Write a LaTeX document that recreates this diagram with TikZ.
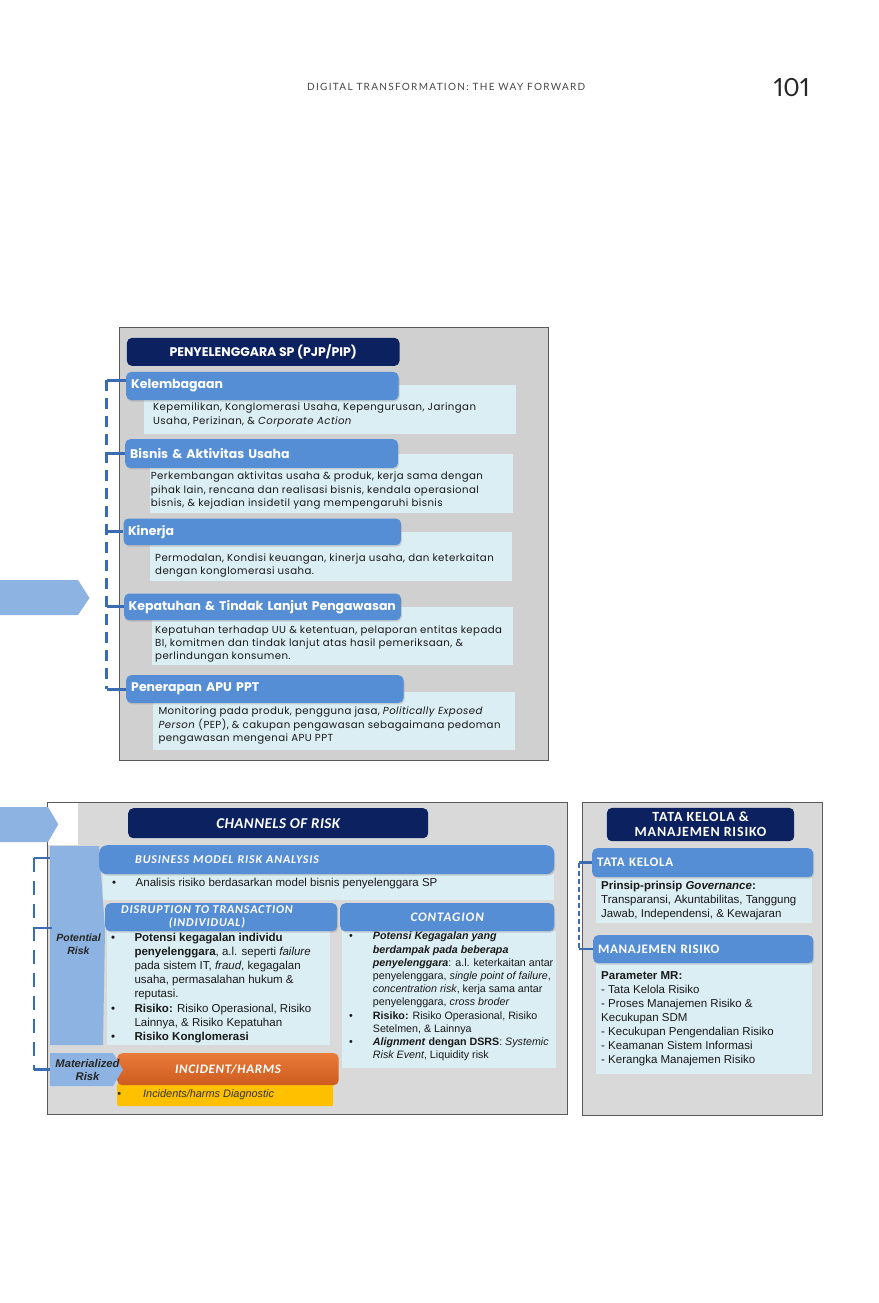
\documentclass[tikz,border=0pt]{standalone}
\usepackage{fontspec}
\setmainfont{Liberation Sans}
\newfontfamily\gothic{Poppins}
\newfontfamily\calib{Carlito}
\newfontfamily\runfont{Lato}
\usetikzlibrary{shadows}

\definecolor{navy}{RGB}{12,34,96}
\definecolor{hblue}{RGB}{85,142,213}
\definecolor{pale}{RGB}{219,238,244}
\definecolor{panelA}{RGB}{208,208,208}
\definecolor{panelB}{RGB}{217,217,217}
\definecolor{arrowblue}{RGB}{141,179,226}
\definecolor{linkblue}{RGB}{58,108,180}
\definecolor{incidentTop}{RGB}{232,122,58}
\definecolor{incidentBot}{RGB}{205,92,30}
\definecolor{amber}{RGB}{255,192,0}
\definecolor{runhead}{RGB}{70,70,70}

% bullet hanging to the left of the text start
\newcommand\rbul[1]{\leavevmode\llap{\textbullet\hspace{#1}}}
% spaced Carlito headings: [baselineskip]{size}{letter spacing}
\newcommand\calsp[3][15]{\calib\addfontfeatures{LetterSpace=#3}\bfseries\fontsize{#2}{#1}\selectfont}

\tikzset{
  sz/.style 2 args={minimum width=#1, minimum height=#2},
  panel/.style={draw=black!65, line width=0.9pt, inner sep=0, anchor=north west},
  navybox/.style={fill=navy, rounded corners=5pt, text=white, inner sep=0, anchor=north west, align=center},
  bluehdr/.style={fill=hblue, rounded corners=5pt, text=white, anchor=north west,
    inner ysep=0, inner xsep=5pt, align=left,
    drop shadow={shadow xshift=1pt, shadow yshift=-1.5pt, opacity=0.3}},
  desc/.style={fill=pale, inner sep=0, anchor=north west},
  body/.style={inner sep=0, anchor=north west, align=left, text=black!90},
  gothicbody/.style={body, font={\gothic\addfontfeatures{LetterSpace=4}\fontsize{10.2}{13.3}\selectfont}},
  gothichdr/.style={font={\gothic\bfseries\fontsize{12.5}{14}\selectfont}},
  link/.style={draw=linkblue, line width=3pt, dash pattern=on 11pt off 7pt},
  tick/.style={draw=linkblue, line width=3pt},
}

\begin{document}
\begin{tikzpicture}[x=1pt,y=-1pt]
\useasboundingbox (0,0) rectangle (878,1303);
\fill[white] (0,0) rectangle (878,1303);

% running head
\node[anchor=base west, inner sep=0, text=runhead,
      font={\runfont\addfontfeatures{LetterSpace=13}\fontsize{10}{12}\selectfont}]
  (runhead) at (307,90.6) {DIGITAL TRANSFORMATION: THE WAY FORWARD};
\node[anchor=base east, inner sep=0, text=black!85,
      font={\runfont\addfontfeatures{Numbers=Proportional}\fontsize{25}{28}\selectfont}]
  (pagenum) at (810,97) {101};

% ---------------- supervised entity profile ----------------
\fill[arrowblue] (0,580) -- (78,580) -- (89.5,598) -- (78,615) -- (0,615) -- cycle;

\node[panel, fill=panelA, sz={429}{433.3}] (topPanel) at (119.3,326.7) {};
\node[navybox, sz={272.6}{28}, font={\gothic\bfseries\fontsize{12.5}{14}\selectfont}]
  (pjp) at (126.7,337.7) {PENYELENGGARA SP (PJP/PIP)};

\node[desc, sz={372.7}{48.3}] (kelBox) at (143.3,385) {};
\node[desc, sz={363}{59}]     (bisBox) at (149.3,453.3) {};
\node[desc, sz={361.7}{49}]   (kinBox) at (150,531.7) {};
\node[desc, sz={361}{58.3}]   (kepBox) at (151.7,606.7) {};
\node[desc, sz={362.3}{57.6}] (penBox) at (152.7,691.7) {};

\node[bluehdr, gothichdr, minimum height=28.3, text width=262.3] (kel) at (126,371.7) {\mbox{Kelembagaan}};
\node[bluehdr, gothichdr, minimum height=28.7, text width=262.7] (bis) at (125,439) {\mbox{Bisnis \& Aktivitas Usaha}};
\node[bluehdr, gothichdr, minimum height=26.7, text width=268.4, inner xsep=4.5pt] (kin) at (123.3,518.3) {\mbox{Kinerja}};
\node[bluehdr, gothichdr, minimum height=26.7, text width=267.7, inner xsep=4.5pt] (kep) at (124,593.3) {\mbox{Kepatuhan \& Tindak Lanjut Pengawasan}};
\node[bluehdr, gothichdr, minimum height=27.7, text width=267.3] (pen) at (126,675) {\mbox{Penerapan APU PPT}};

\node[gothicbody] (kelTxt) at (153,402.9)
  {Kepemilikan, Konglomerasi Usaha, Kepengurusan, Jaringan\\
   Usaha, Perizinan, \& \textit{Corporate Action}};
\node[gothicbody] (bisTxt) at (150.7,471.9)
  {Perkembangan aktivitas usaha \& produk, kerja sama dengan\\
   pihak lain, rencana dan realisasi bisnis, kendala operasional\\
   bisnis, \& kejadian insidetil yang mempengaruhi bisnis};
\node[gothicbody] (kinTxt) at (155,553.5)
  {Permodalan, Kondisi keuangan, kinerja usaha, dan keterkaitan\\
   dengan konglomerasi usaha.};
\node[gothicbody] (kepTxt) at (155,625.2)
  {Kepatuhan terhadap UU \& ketentuan, pelaporan entitas kepada\\
   BI, komitmen dan tindak lanjut atas hasil pemeriksaan, \&\\
   perlindungan konsumen.};
\node[gothicbody] (penTxt) at (158.3,706.9)
  {Monitoring pada produk, pengguna jasa, \textit{Politically Exposed}\\
   \textit{Person} (PEP), \& cakupan pengawasan sebagaimana pedoman\\
   pengawasan mengenai APU PPT};

% bracket joining the profile aspects
\coordinate (tTop) at (106.7,380);
\coordinate (tBot) at (106.7,689);
\draw[link] (tTop) -- (tBot);
\draw[tick] (tTop) -- (kel.west |- tTop);
\draw[tick] (bis.west) -- (bis.west -| tTop);
\draw[tick] (kin.west) -- (kin.west -| tTop);
\draw[tick] (kep.west) -- (kep.west -| tTop);
\draw[tick] (tBot) -- (pen.west |- tBot);

% ---------------- channels of risk ----------------
\node[panel, fill=panelB, sz={520}{312}] (chPanel) at (47,802) {};
\fill[white] (47.5,802.5) rectangle (78,845);
\fill[arrowblue] (0,807) -- (48,807) -- (58.3,824.3) -- (48,842) -- (0,842) -- cycle;

\node[navybox, sz={300}{30}, font={\calsp{15}{3}\itshape}]
  (chTitle) at (128,808) {CHANNELS OF RISK};

\fill[arrowblue] (50,846) -- (99,846) -- (105,930) -- (103,1045) -- (50,1045) -- cycle;
\node[font={\bfseries\itshape\fontsize{10.5}{13}\selectfont}, align=center, text=black!85, inner sep=0]
  (potTxt) at (78.5,944.5) {Potential\\Risk};

\node[desc, sz={451}{26}] (bmraBox) at (103,874) {};
\node[bluehdr, font={\calsp{12}{7}\itshape}, rounded corners=8pt, minimum height=29, inner xsep=36pt, text width=383]
  (bmra) at (99,845) {BUSINESS MODEL RISK ANALYSIS};
\node[body, anchor=west, font={\fontsize{11.5}{13}\selectfont}] (bmraTxt) at (135.5,884)
  {\rbul{19.5pt}Analisis risiko berdasarkan model bisnis penyelenggara SP};

\node[desc, sz={223}{114}] (disBox) at (107,931) {};
\node[bluehdr, sz={232}{28}] (dis) at (105,903) {};
\node[font={\calsp[13]{12}{7}\itshape}, align=center, text=white, inner sep=0] (disTxt) at (207,916.5)
  {DISRUPTION TO TRANSACTION\\(INDIVIDUAL)};
\node[body, font={\fontsize{11.5}{14.2}\selectfont}] (disList) at (134.3,932.6)
  {\rbul{19.3pt}\textbf{Potensi kegagalan individu}\\
   \textbf{penyelenggara}, a.l. seperti \textit{failure}\\
   pada sistem IT, \textit{fraud}, kegagalan\\
   usaha, permasalahan hukum \&\\
   reputasi.\\
   \rbul{19.3pt}\textbf{Risiko:} Risiko Operasional, Risiko\\
   Lainnya, \& Risiko Kepatuhan\\
   \rbul{19.3pt}\textbf{Risiko Konglomerasi}};

\node[desc, sz={214}{137}] (conBox) at (342,931) {};
\node[bluehdr, sz={214}{28}, align=center, inner xsep=0,
      font={\calsp{13}{7}\itshape}] (con) at (340,903) {CONTAGION};
\node[body, font={\fontsize{10.7}{13.2}\selectfont}] (conList) at (372.7,932)
  {\rbul{20.1pt}\textbf{\textit{Potensi Kegagalan yang}}\\
   \textbf{\textit{berdampak pada beberapa}}\\
   \textbf{\textit{penyelenggara}}: a.l. keterkaitan antar\\
   penyelenggara, \textit{single point of failure},\\
   \textit{concentration risk}, kerja sama antar\\
   penyelenggara, \textit{cross broder}\\
   \rbul{20.1pt}\textbf{Risiko:} Risiko Operasional, Risiko\\
   Setelmen, \& Lainnya\\
   \rbul{20.1pt}\textbf{\textit{Alignment} dengan DSRS}: \textit{Systemic}\\
   \textit{Risk Event}, Liquidity risk};

\node[anchor=north west, sz={216}{23}, inner sep=0, fill=amber, rounded corners=2pt] (diag) at (117,1083) {};
\node[anchor=west, inner sep=0, text=black!80, font={\itshape\fontsize{10.9}{12}\selectfont}]
  (diagTxt) at (143,1095) {\rbul{22pt}Incidents/harms Diagnostic};
\node[anchor=north west, sz={221.5}{32}, inner sep=0, rounded corners=5pt,
      top color=incidentTop, bottom color=incidentBot, text=white,
      font={\calsp{13}{5}\itshape}] (incident) at (117,1053) {INCIDENT/HARMS};

\fill[arrowblue] (50,1053) -- (113,1053) -- (123,1069.5) -- (113,1086) -- (50,1086) -- cycle;
\node[font={\bfseries\itshape\fontsize{11.2}{13}\selectfont}, align=center, text=black!85, inner sep=0]
  (matTxt) at (87.5,1069.5) {Materialized\\Risk};

% bracket joining potential and materialized risk
\coordinate (cTop) at (34,858);
\coordinate (cBot) at (34,1069.5);
\coordinate (potA) at (50,858);
\coordinate (potB) at (52,928);
\coordinate (matA) at (50,1069.5);
\draw[link, line width=2.6pt, dash pattern=on 14pt off 9pt] (cTop) -- (cBot);
\draw[tick, line width=2.6pt] (cTop) -- (potA);
\draw[tick, line width=2.6pt] (potB) -- (potB -| cTop);
\draw[tick, line width=2.6pt] (cBot) -- (matA);

% ---------------- governance and risk management ----------------
\node[panel, fill=panelB, sz={240}{313}] (gvPanel) at (582,802) {};
\node[navybox, sz={187.3}{33.3}, font={\calsp[15]{14}{6}}]
  (gvTitle) at (606.7,807.7) {TATA KELOLA \&\\MANAJEMEN RISIKO};

\node[desc, sz={216}{46}] (tkBox) at (596,877) {};
\node[desc, sz={216}{111}] (mrBox) at (596,963) {};
\node[bluehdr, minimum height=29, text width=211, font={\calsp{13}{5}}]
  (tk) at (592,848) {TATA KELOLA};
\node[bluehdr, minimum height=28, text width=210, font={\calsp{13}{5}}]
  (mr) at (593,935) {MANAJEMEN RISIKO};

\node[body, font={\fontsize{11.5}{13.7}\selectfont}] (tkTxt) at (601,881.3)
  {\textbf{Prinsip-prinsip \textit{Governance}:}\\
   Transparansi, Akuntabilitas, Tanggung\\
   Jawab, Independensi, \& Kewajaran};
\node[body, font={\fontsize{11.5}{14}\selectfont}] (mrTxt) at (601,971.3)
  {\textbf{Parameter MR:}\\
   - Tata Kelola Risiko\\
   - Proses Manajemen Risiko \&\\
   Kecukupan SDM\\
   - Kecukupan Pengendalian Risiko\\
   - Keamanan Sistem Informasi\\
   - Kerangka Manajemen Risiko};

\coordinate (gTop) at (579,862.7);
\coordinate (gBot) at (579,949);
\draw[link, line width=2.6pt, dash pattern=on 5pt off 3pt] (gTop) -- (gBot);
\draw[tick, line width=2.6pt] (gTop) -- (tk.west |- gTop);
\draw[tick, line width=2.6pt] (gBot) -- (mr.west |- gBot);
\end{tikzpicture}
\end{document}
